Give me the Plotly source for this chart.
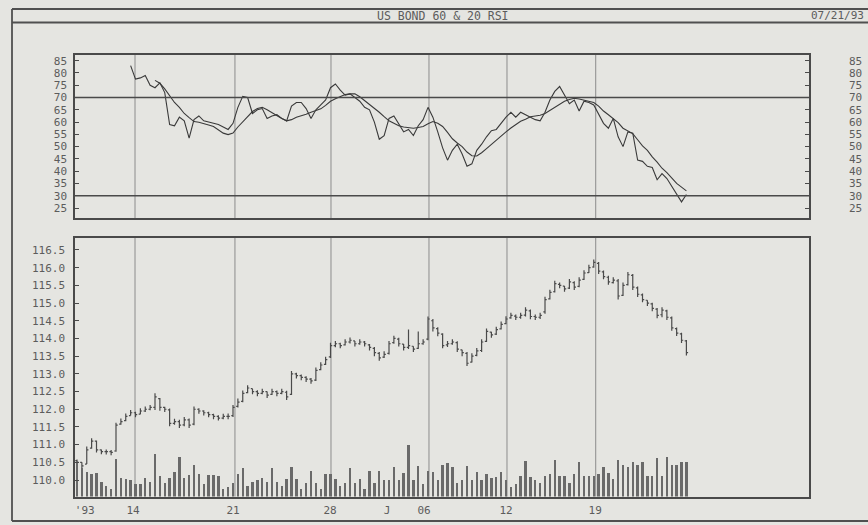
import plotly.graph_objects as go

# ---------------- data (bar number = 4 bars per trading day) ----------------
bar_open = [110.55,110.50,110.45,110.90,111.10,110.85,110.80,110.80,110.82,111.58,
            111.68,111.82,111.90,111.86,111.95,112.00,112.05,112.30,112.05,111.98,
            111.60,111.65,111.56,111.70,111.58,112.00,111.95,111.90,111.85,111.80,
            111.75,111.80,111.82,112.08,112.22,112.47,112.58,112.50,112.45,112.50,
            112.42,112.50,112.45,112.48,112.42,113.00,112.95,112.90,112.85,112.82,
            113.12,113.27,113.48,113.80,113.85,113.82,113.90,113.93,113.85,113.90,
            113.82,113.72,113.58,113.47,113.58,113.88,113.98,113.84,113.75,113.78,
            113.72,113.85,113.98,114.50,114.28,114.12,113.82,113.85,113.88,113.68,
            113.58,113.33,113.52,113.66,113.92,114.18,114.12,114.27,114.42,114.58,
            114.63,114.60,114.66,114.78,114.62,114.60,114.75,115.12,115.32,115.53,
            115.48,115.42,115.58,115.47,115.67,115.86,116.02,116.12,115.88,115.73,
            115.58,115.63,115.22,115.52,115.78,115.43,115.23,115.08,114.98,114.83,
            114.67,114.78,114.58,114.28,114.13,113.93]
bar_high = [110.58,110.50,110.95,111.18,111.12,110.86,110.86,110.85,111.62,111.74,
            111.88,111.98,111.93,112.03,112.08,112.12,112.45,112.32,112.07,112.02,
            111.73,111.70,111.78,111.74,112.08,112.03,111.97,111.93,111.87,111.83,
            111.87,111.88,112.12,112.30,112.53,112.68,112.58,112.54,112.58,112.50,
            112.58,112.53,112.58,112.52,113.08,113.03,112.98,112.93,112.88,113.18,
            113.33,113.48,113.88,113.93,113.88,113.98,114.03,113.93,113.98,113.93,
            113.84,113.76,113.62,113.64,113.93,114.08,114.02,113.84,114.25,113.78,
            114.20,113.98,114.62,114.55,114.32,114.15,113.93,113.98,113.92,113.68,
            113.62,113.58,113.73,113.98,114.28,114.19,114.33,114.48,114.63,114.73,
            114.68,114.73,114.88,114.82,114.68,114.73,115.18,115.38,115.63,115.58,
            115.48,115.68,115.62,115.73,115.93,116.08,116.23,116.16,115.92,115.77,
            115.73,115.68,115.58,115.88,115.82,115.47,115.27,115.08,115.01,114.86,
            114.88,114.81,114.62,114.31,114.16,113.96]
bar_low = [110.42,110.32,110.45,110.88,110.78,110.73,110.72,110.70,110.80,111.56,
           111.66,111.82,111.77,111.86,111.92,111.97,111.98,111.96,111.92,111.52,
           111.56,111.47,111.52,111.47,111.55,111.87,111.82,111.77,111.72,111.68,
           111.72,111.72,111.78,112.05,112.20,112.45,112.42,112.37,112.42,112.32,
           112.40,112.37,112.42,112.26,112.40,112.87,112.82,112.77,112.72,112.80,
           113.10,113.25,113.45,113.75,113.72,113.80,113.86,113.77,113.82,113.77,
           113.66,113.50,113.37,113.45,113.55,113.85,113.77,113.66,113.70,113.62,
           113.70,113.82,113.95,114.20,114.06,113.72,113.76,113.82,113.62,113.50,
           113.22,113.32,113.50,113.62,113.90,114.02,114.10,114.25,114.40,114.56,
           114.52,114.56,114.62,114.54,114.52,114.55,114.70,115.10,115.30,115.42,
           115.32,115.40,115.37,115.45,115.65,115.85,116.00,115.82,115.67,115.52,
           115.55,115.10,115.20,115.50,115.37,115.17,115.02,114.92,114.77,114.57,
           114.60,114.52,114.22,114.07,113.87,113.52]
bar_close = [110.50,110.40,110.85,111.10,110.85,110.80,110.80,110.78,111.55,111.65,
             111.80,111.90,111.85,111.95,112.00,112.05,112.35,112.05,112.00,111.60,
             111.65,111.55,111.70,111.55,112.00,111.95,111.90,111.85,111.80,111.75,
             111.80,111.80,112.05,112.20,112.45,112.60,112.50,112.45,112.50,112.40,
             112.50,112.45,112.50,112.35,113.00,112.95,112.90,112.85,112.80,113.10,
             113.25,113.40,113.80,113.85,113.80,113.90,113.95,113.85,113.90,113.85,
             113.75,113.60,113.45,113.55,113.85,114.00,113.85,113.75,113.80,113.70,
             113.85,113.90,114.55,114.30,114.15,113.80,113.85,113.90,113.70,113.60,
             113.30,113.50,113.65,113.90,114.20,114.10,114.25,114.40,114.55,114.65,
             114.60,114.65,114.80,114.62,114.60,114.65,115.10,115.30,115.55,115.50,
             115.40,115.60,115.45,115.65,115.85,116.00,116.15,115.90,115.75,115.60,
             115.65,115.20,115.50,115.80,115.45,115.25,115.10,115.00,114.85,114.65,
             114.80,114.60,114.30,114.15,113.95,113.60]
volume = [34,27,24,22,23,14,10,8,36,18,
          17,16,12,12,18,14,41,20,13,18,
          24,38,18,21,30,22,12,21,21,20,
          8,9,13,22,27,10,14,16,18,14,
          27,14,10,17,28,17,8,13,25,13,
          8,22,22,17,10,13,27,13,17,8,
          25,13,25,16,16,28,16,23,49,16,
          29,12,25,24,16,30,32,28,13,16,
          29,16,24,16,22,18,19,24,16,9,
          12,20,34,19,16,13,20,22,35,20,
          20,13,22,33,20,20,20,22,28,23,
          17,35,30,28,33,30,33,20,20,37,
          20,38,30,30,33,33]

rsi20_start = 11
rsi20 = [83,77.5,78,79,75,74,76,72,59,58.5,
         62,60.5,53.5,61,62.5,60.5,60,59.5,59,58,
         57,59.5,66,70.5,70,63.5,65,65.5,61.5,62.5,
         63,61.5,60.5,66.5,68,68,65.5,61.5,65,67,
         69,74,75.5,73,71,71.5,70,68.5,66,65,
         60,53,54.5,61.5,62.5,59,56,57,54.5,58.5,
         61,66,62,56,49.5,44.5,48.5,51,47,42,
         43,48.5,51,54,56.5,57,59.5,62,64,62,
         64,63,62,61,60.5,64,69,72.5,74.5,71,
         67.5,69,64.5,68.5,68,67,63.5,59.5,57.5,61.5,
         54,50,56,55.5,44.5,44,42,41.5,36.5,39,
         37,34,31,27.5,30.5]
rsi60_start = 16
rsi60 = [77,75.8,73.5,70.5,68,66,63.5,61.8,60.2,59.9,
         59.5,58.8,58.2,56.8,55.5,54.9,55.5,58,60.2,62.5,
         64.3,65.5,66,65,63.8,62.5,61.5,60.5,61,62,
         62.5,63.2,64,64.8,65.4,66.8,68.5,69.5,70.5,71.2,
         71.5,71.5,70.3,68.8,67.2,65.5,64,62.2,60.5,59.5,
         58.5,58,57.8,57.5,57.8,58.2,59.3,60.2,59.5,58.2,
         55.8,53.2,51.5,50,47.8,46.3,46.2,47.5,49.2,51,
         52.6,54.4,56,57.6,59,60.3,61.2,62.2,62.5,62.8,
         63.5,64.8,66,67.3,68.5,69.2,69.7,69.4,69,68.5,
         68,66.5,64.5,63,61.4,59.8,57.5,56.5,55.3,52.8,
         50.3,48.5,45.8,43.7,41.2,39.4,37,35,33.5,32]
rsi_levels = [70, 30]

week_lines = [11.9, 32.4, 52.1, 72.2, 88.2, 106.4]
date_pos = [1.6, 11.5, 32.0, 51.9, 63.6, 71.2, 88.0, 106.3]
date_text = ["'93", "14", "21", "28", "J", "06", "12", "19"]
rsi_ticks = [25, 30, 35, 40, 45, 50, 55, 60, 65, 70, 75, 80, 85]
price_ticks = [110.0, 110.5, 111.0, 111.5, 112.0, 112.5, 113.0,
               113.5, 114.0, 114.5, 115.0, 115.5, 116.0, 116.5]
title_text = "US BOND 60 & 20 RSI"
date_stamp = "07/21/93"

# ---------------- figure ----------------
W, H = 868, 525
bars = list(range(len(bar_close)))
ink = "#4a4a4a"
bg = "#e5e5e1"
FONT = "DejaVu Sans Mono"
tickfont = dict(family=FONT, size=11, color="#5c5c5c")

xdom = [75 / W, 809 / W]
top_dom = [1 - 218 / H, 1 - 54.5 / H]
bot_dom = [1 - 496.5 / H, 1 - 237.5 / H]
xr = [-0.41, 150.15]
rsi_range = [20.93, 87.53]
price_range = [109.534, 116.853]

fig = go.Figure()
fig.add_trace(go.Bar(x=bars, y=volume, xaxis="x", yaxis="y2",
                     marker=dict(color="#6a6a6a", line=dict(width=0)),
                     width=0.5, showlegend=False))
fig.add_trace(go.Ohlc(x=bars, open=bar_open, high=bar_high, low=bar_low,
                      close=bar_close, xaxis="x", yaxis="y",
                      increasing=dict(line=dict(color=ink, width=1.2)),
                      decreasing=dict(line=dict(color=ink, width=1.2)),
                      tickwidth=0.35, showlegend=False))
fig.add_trace(go.Scatter(x=bars[rsi20_start:rsi20_start + len(rsi20)], y=rsi20,
                         xaxis="x2", yaxis="y4", mode="lines",
                         line=dict(color="#3a3a3a", width=1.1), showlegend=False))
fig.add_trace(go.Scatter(x=bars[rsi60_start:rsi60_start + len(rsi60)], y=rsi60,
                         xaxis="x2", yaxis="y5", mode="lines",
                         line=dict(color="#3a3a3a", width=1.1), showlegend=False))

boxline = dict(showline=True, mirror=True, linecolor=ink, linewidth=1.5,
               zeroline=False, showgrid=False)

fig.update_layout(
    width=W, height=H, autosize=False,
    margin=dict(l=0, r=0, t=0, b=0),
    paper_bgcolor=bg, plot_bgcolor=bg,
    showlegend=False, bargap=0,
    xaxis=dict(domain=xdom, anchor="y", range=xr, tickmode="array",
               tickvals=date_pos, ticktext=date_text, ticks="",
               tickfont=tickfont, ticklabelstandoff=3,
               rangeslider=dict(visible=False), **boxline),
    xaxis2=dict(domain=xdom, anchor="y4", range=xr, showticklabels=False,
                ticks="", **boxline),
    yaxis=dict(domain=bot_dom, anchor="x", range=price_range, tickmode="array",
               tickvals=price_ticks, ticktext=[f"{v:.1f}" for v in price_ticks],
               ticks="inside", ticklen=4, tickcolor=ink, tickfont=tickfont,
               ticklabelstandoff=6, **boxline),
    yaxis2=dict(overlaying="y", range=[0, 245], visible=False),
    yaxis3=dict(overlaying="y", side="right", anchor="x", range=price_range,
                tickmode="array", tickvals=price_ticks,
                ticktext=[f"{v:.1f}" for v in price_ticks],
                ticks="inside", ticklen=4, tickcolor=ink, tickfont=tickfont,
                ticklabelstandoff=14, showgrid=False, zeroline=False, showline=False),
    yaxis4=dict(domain=top_dom, anchor="x2", range=rsi_range, tickmode="array",
                tickvals=rsi_ticks, ticks="inside", ticklen=4, tickcolor=ink,
                tickfont=tickfont, ticklabelstandoff=4, **boxline),
    yaxis5=dict(overlaying="y4", side="right", anchor="x2", range=rsi_range,
                tickmode="array", tickvals=rsi_ticks, ticks="inside", ticklen=4,
                tickcolor=ink, tickfont=tickfont, ticklabelstandoff=39,
                showgrid=False, zeroline=False, showline=False),
)

shapes = []
for w in week_lines:
    shapes.append(dict(type="line", xref="x", yref="y domain", x0=w, x1=w, y0=0, y1=1,
                       line=dict(color="#8c8c8c", width=1), layer="below"))
    shapes.append(dict(type="line", xref="x2", yref="y4 domain", x0=w, x1=w, y0=0, y1=1,
                       line=dict(color="#8c8c8c", width=1), layer="below"))
for lv in rsi_levels:
    shapes.append(dict(type="line", xref="x2 domain", yref="y4", x0=0, x1=1, y0=lv, y1=lv,
                       line=dict(color=ink, width=1.5)))
# outer frame and title bar
fx0, fy_top, fy_div, fy_bot = 12 / W, 1 - 9 / H, 1 - 22.5 / H, 1 - 521 / H
frame = dict(color="#505050", width=1.8)
shapes += [
    dict(type="line", xref="paper", yref="paper", x0=fx0, x1=1.02, y0=fy_top, y1=fy_top, line=frame),
    dict(type="line", xref="paper", yref="paper", x0=fx0, x1=1.02, y0=fy_div, y1=fy_div, line=frame),
    dict(type="line", xref="paper", yref="paper", x0=fx0, x1=1.02, y0=fy_bot, y1=fy_bot, line=frame),
    dict(type="line", xref="paper", yref="paper", x0=fx0, x1=fx0, y0=fy_bot, y1=fy_top, line=frame),
]
fig.update_layout(shapes=shapes)

fig.add_annotation(x=443 / W, y=1 - 16 / H, xref="paper", yref="paper", text=title_text,
                   showarrow=False, xanchor="center", yanchor="middle",
                   font=dict(family=FONT, size=11.5, color="#5c5c5c"))
fig.add_annotation(x=866 / W, y=1 - 16 / H, xref="paper", yref="paper", text=date_stamp,
                   showarrow=False, xanchor="right", yanchor="middle",
                   font=dict(family=FONT, size=11, color="#5c5c5c"))

fig.write_html("out.html",
               config={"displayModeBar": False},
               post_script="document.body.style.margin='0';"
                           "document.body.style.overflow='hidden';")
